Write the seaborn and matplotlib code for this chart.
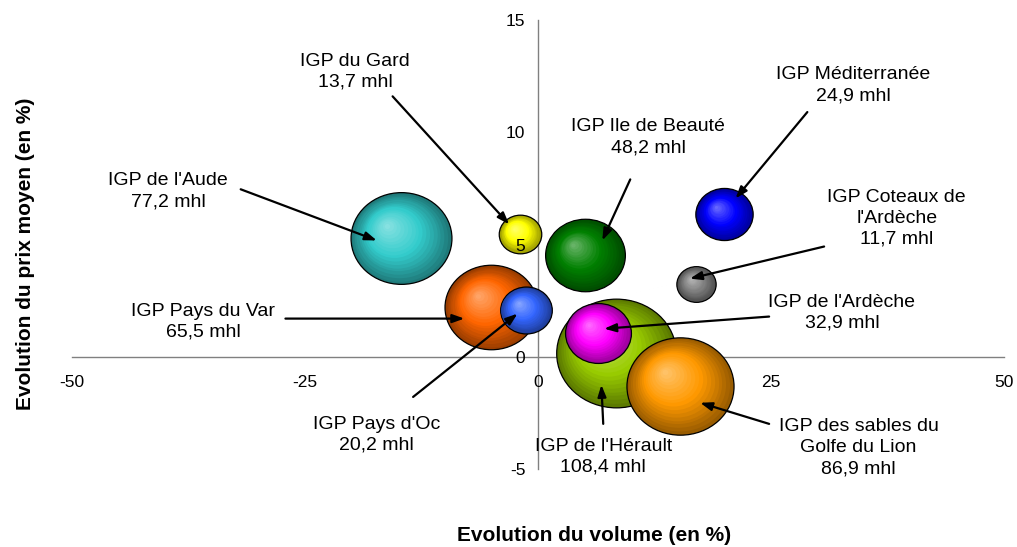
import numpy as np
import pandas as pd
import matplotlib
matplotlib.use("Agg")
import matplotlib.pyplot as plt
import matplotlib.colors as mcolors
from matplotlib.path import Path
from matplotlib.markers import MarkerStyle
from matplotlib.transforms import Affine2D, ScaledTranslation
import seaborn as sns

# Datos
noms = ["IGP de l'Aude", "IGP du Gard", "IGP Ile de Beauté", "IGP Méditerranée",
        "IGP Coteaux de\nl'Ardèche", "IGP Pays du Var", "IGP Pays d'Oc",
        "IGP de l'Hérault", "IGP de l'Ardèche", "IGP des sables du\nGolfe du Lion"]
volume_pct = [-14.7, -1.9, 5.0, 20.0, 17.0, -5.0, -1.3, 8.4, 6.45, 15.25]
prix_pct = [5.27, 5.47, 4.53, 6.34, 3.24, 2.2, 2.08, 0.16, 1.05, -1.29]
volumes_mhl = [77.2, 13.7, 48.2, 24.9, 11.7, 65.5, 20.2, 108.4, 32.9, 86.9]
couleurs = ["#33CCCC", "#FFFF00", "#008000", "#0000FF", "#808080",
            "#FF6600", "#3366FF", "#99CC00", "#FF00FF", "#FF9900"]

# position du texte et de la fleche (debut -> pointe)
texte_xy = [(-39.7, 7.37), (-19.6, 12.7), (11.8, 9.78), (33.8, 12.1), (38.5, 6.16),
            (-35.9, 1.56), (-17.3, -3.48), (7.0, -4.46), (32.6, 1.96), (34.4, -4.06)]
fleche_debut = [(-31.9, 7.46), (-15.6, 11.6), (9.9, 7.9), (28.9, 10.9), (30.7, 4.91),
                (-27.1, 1.70), (-13.4, -1.79), (7.0, -2.99), (24.8, 1.79), (24.8, -2.99)]
fleche_pointe = [(-17.3, 5.18), (-3.1, 5.9), (6.9, 5.18), (21.2, 7.05), (16.3, 3.48),
                 (-7.9, 1.70), (-2.2, 1.92), (6.8, -1.25), (7.1, 1.25), (17.4, -2.05)]

df = pd.DataFrame({"nom": noms, "volume": volume_pct, "prix": prix_pct, "mhl": volumes_mhl})

sns.set_style("white")
plt.rcParams["font.family"] = ["Liberation Sans", "DejaVu Sans"]
plt.rcParams["text.color"] = "black"
plt.rcParams["axes.labelcolor"] = "black"
plt.rcParams["xtick.labelcolor"] = "black"
plt.rcParams["ytick.labelcolor"] = "black"
plt.rcParams["axes.unicode_minus"] = False

fig = plt.figure(figsize=(10.17, 5.47), dpi=100)
ax = fig.add_axes([0.0708, 0.1426, 0.9164, 0.8208])

# marqueur un peu ovale (l'image d'origine est etiree)
cercle = Path.unit_circle()
ovale = Path(Affine2D().scale(1.1, 1.0).transform(cercle.vertices), cercle.codes)
marqueur = MarkerStyle(ovale)

smax = 68.4 * max(volumes_mhl)
n_couches = 18

for i, row in df.iterrows():
    base = np.array(mcolors.to_rgb(couleurs[i]))
    fonce = base * 0.6
    clair = base + 0.45 * (1 - base)
    z = 2 + i * 0.1
    sns.scatterplot(data=df.iloc[[i]], x="volume", y="prix", size="mhl",
                    sizes=(0, smax), size_norm=(0, max(volumes_mhl)),
                    color=fonce, marker=marqueur, edgecolor="black",
                    linewidth=0.9, legend=False, zorder=z, ax=ax)
    s = 68.4 * row["mhl"]
    r_pt = np.sqrt(s) / 2
    for k in range(1, n_couches):
        f = 1 - k / n_couches
        t = k / n_couches
        if t < 0.45:
            c = fonce + (base - fonce) * (t / 0.45)
        else:
            c = base + (clair - base) * ((t - 0.45) / 0.55)
        dx = (1 - f) * -0.3 * r_pt / 72
        dy = (1 - f) * 0.27 * r_pt / 72
        tr = ax.transData + ScaledTranslation(dx, dy, fig.dpi_scale_trans)
        ax.scatter([row["volume"]], [row["prix"]], s=s * f * f, marker=marqueur,
                   color=np.clip(c, 0, 1), linewidths=0, transform=tr,
                   zorder=z + k * 0.001)

# textes et fleches
for i in range(len(noms)):
    ax.text(texte_xy[i][0], texte_xy[i][1], f"{noms[i]}\n{str(volumes_mhl[i]).replace('.', ',')} mhl",
            ha="center", va="center", fontsize=14, linespacing=1.3, zorder=20)
    ax.annotate("", xy=fleche_pointe[i], xytext=fleche_debut[i],
                arrowprops=dict(arrowstyle="-|>,head_length=0.7,head_width=0.25",
                                color="black", lw=1.6, shrinkA=0, shrinkB=0),
                zorder=21)

ax.set_xlim(-50, 50)
ax.set_ylim(-5, 15)
ax.set_xticks([-50, -25, 0, 25, 50])
ax.set_yticks([-5, 0, 5, 10, 15])
for cote in ["top", "right"]:
    ax.spines[cote].set_visible(False)
for cote in ["left", "bottom"]:
    ax.spines[cote].set_position(("data", 0))
    ax.spines[cote].set_color("#808080")
    ax.spines[cote].set_linewidth(1.0)
    ax.spines[cote].set_zorder(1)
ax.tick_params(axis="both", direction="out", length=5, width=1.0, color="#808080",
               labelsize=12.5)
ax.tick_params(axis="x", pad=8)
ax.tick_params(axis="y", pad=4)
ax.xaxis.set_zorder(10)
ax.yaxis.set_zorder(10)

ax.set_xlabel("Evolution du volume (en %)", fontsize=15, fontweight="bold")
ax.set_ylabel("Evolution du prix moyen (en %)", fontsize=15, fontweight="bold")
ax.xaxis.set_label_coords(0.56, -0.128)
ax.yaxis.set_label_coords(-0.04, 0.48)

fig.savefig("out.png", dpi=100)
